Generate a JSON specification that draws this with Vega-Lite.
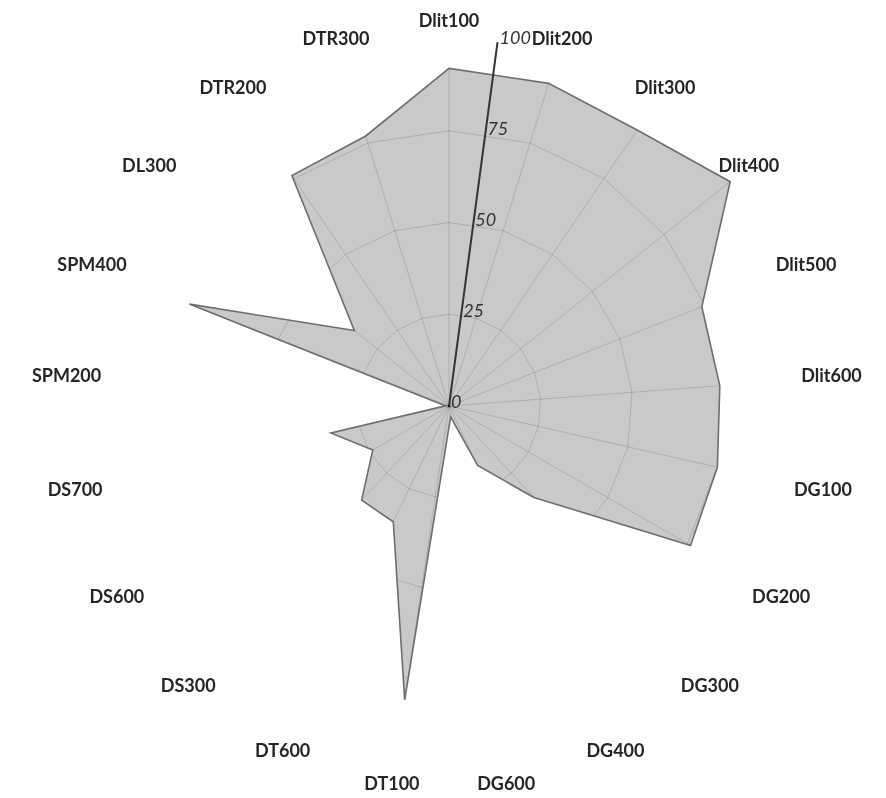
{
  "$schema": "https://vega.github.io/schema/vega-lite/v6.json",
  "width": 886,
  "height": 798,
  "autosize": {"type": "none"},
  "padding": 0,
  "background": "white",
  "view": {"stroke": null},
  "datasets": {
    "scores": [
      {"category": "Dlit100", "order": 0, "value": 92},
      {"category": "Dlit200", "order": 1, "value": 92},
      {"category": "Dlit300", "order": 2, "value": 91},
      {"category": "Dlit400", "order": 3, "value": 98},
      {"category": "Dlit500", "order": 4, "value": 74},
      {"category": "Dlit600", "order": 5, "value": 74},
      {"category": "DG100", "order": 6, "value": 75},
      {"category": "DG200", "order": 7, "value": 76},
      {"category": "DG300", "order": 8, "value": 34},
      {"category": "DG400", "order": 9, "value": 18},
      {"category": "DG600", "order": 10, "value": 3},
      {"category": "DT100", "order": 11, "value": 81},
      {"category": "DT600", "order": 12, "value": 35},
      {"category": "DS300", "order": 13, "value": 35},
      {"category": "DS600", "order": 14, "value": 24},
      {"category": "DS700", "order": 15, "value": 33},
      {"category": "SPM200", "order": 16, "value": 1},
      {"category": "SPM400", "order": 17, "value": 76},
      {"category": "DL300", "order": 18, "value": 33},
      {"category": "DTR200", "order": 19, "value": 76},
      {"category": "DTR300", "order": 20, "value": 77}
    ],
    "ticks": [
      {"tick": 0}, {"tick": 25}, {"tick": 50}, {"tick": 75}, {"tick": 100}
    ]
  },
  "layer": [
    {
      "data": {"name": "scores"},
      "transform": [
        {"calculate": "datum.order * 2 * PI / 21", "as": "theta"},
        {"calculate": "datum.value * sin(datum.theta)", "as": "px"},
        {"calculate": "datum.value * cos(datum.theta)", "as": "py"}
      ],
      "mark": {"type": "line", "interpolate": "linear-closed", "fill": "#c9c9c9", "strokeWidth": 0},
      "encoding": {
        "x": {"field": "px", "type": "quantitative", "axis": null, "scale": {"domain": [-122.34, 119.07], "nice": false, "zero": false}},
        "y": {"field": "py", "type": "quantitative", "axis": null, "scale": {"domain": [-106.81, 110.63], "nice": false, "zero": false}},
        "order": {"field": "order", "type": "quantitative"}
      }
    },
    {
      "data": {"name": "scores"},
      "transform": [
        {"calculate": "datum.order * 2 * PI / 21", "as": "theta"},
        {"calculate": "100 * sin(datum.theta)", "as": "gx"},
        {"calculate": "100 * cos(datum.theta)", "as": "gy"},
        {"calculate": "0", "as": "z"}
      ],
      "mark": {"type": "rule", "stroke": "#ababab", "strokeWidth": 1, "blend": "color-burn"},
      "encoding": {
        "x": {"field": "z", "type": "quantitative", "axis": null, "scale": {"domain": [-122.34, 119.07], "nice": false, "zero": false}},
        "y": {"field": "z", "type": "quantitative", "axis": null, "scale": {"domain": [-106.81, 110.63], "nice": false, "zero": false}},
        "x2": {"field": "gx"},
        "y2": {"field": "gy"}
      }
    },
    {
      "data": {"name": "scores"},
      "transform": [
        {"calculate": "datum.order * 2 * PI / 21", "as": "theta"},
        {"calculate": "25", "as": "r25"},
        {"calculate": "50", "as": "r50"},
        {"calculate": "75", "as": "r75"},
        {"calculate": "100", "as": "r100"},
        {"fold": ["r25", "r50", "r75", "r100"], "as": ["ring", "rv"]},
        {"calculate": "datum.rv * sin(datum.theta)", "as": "gx"},
        {"calculate": "datum.rv * cos(datum.theta)", "as": "gy"}
      ],
      "mark": {"type": "line", "interpolate": "linear-closed", "stroke": "#ababab", "strokeWidth": 1, "blend": "color-burn"},
      "encoding": {
        "x": {"field": "gx", "type": "quantitative", "axis": null, "scale": {"domain": [-122.34, 119.07], "nice": false, "zero": false}},
        "y": {"field": "gy", "type": "quantitative", "axis": null, "scale": {"domain": [-106.81, 110.63], "nice": false, "zero": false}},
        "detail": {"field": "ring", "type": "nominal"},
        "order": {"field": "order", "type": "quantitative"}
      }
    },
    {
      "data": {"name": "scores"},
      "transform": [
        {"calculate": "datum.order * 2 * PI / 21", "as": "theta"},
        {"calculate": "datum.value * sin(datum.theta)", "as": "px"},
        {"calculate": "datum.value * cos(datum.theta)", "as": "py"}
      ],
      "mark": {"type": "line", "interpolate": "linear-closed", "stroke": "#6e6e6e", "strokeWidth": 1.6},
      "encoding": {
        "x": {"field": "px", "type": "quantitative", "axis": null, "scale": {"domain": [-122.34, 119.07], "nice": false, "zero": false}},
        "y": {"field": "py", "type": "quantitative", "axis": null, "scale": {"domain": [-106.81, 110.63], "nice": false, "zero": false}},
        "order": {"field": "order", "type": "quantitative"}
      }
    },
    {
      "data": {"name": "ticks"},
      "transform": [
        {"calculate": "datum.tick * sin(7.6 * PI / 180)", "as": "ax"},
        {"calculate": "datum.tick * cos(7.6 * PI / 180)", "as": "ay"}
      ],
      "mark": {"type": "line", "stroke": "#333333", "strokeWidth": 2},
      "encoding": {
        "x": {"field": "ax", "type": "quantitative", "axis": null, "scale": {"domain": [-122.34, 119.07], "nice": false, "zero": false}},
        "y": {"field": "ay", "type": "quantitative", "axis": null, "scale": {"domain": [-106.81, 110.63], "nice": false, "zero": false}},
        "order": {"field": "tick", "type": "quantitative"}
      }
    },
    {
      "data": {"name": "ticks"},
      "transform": [
        {"calculate": "datum.tick * sin(7.6 * PI / 180)", "as": "ax"},
        {"calculate": "datum.tick * cos(7.6 * PI / 180)", "as": "ay"}
      ],
      "mark": {"type": "text", "align": "left", "baseline": "middle", "dx": 2, "dy": -3, "font": "Lato", "fontSize": 18, "fontStyle": "italic", "fill": "#333333"},
      "encoding": {
        "x": {"field": "ax", "type": "quantitative", "axis": null, "scale": {"domain": [-122.34, 119.07], "nice": false, "zero": false}},
        "y": {"field": "ay", "type": "quantitative", "axis": null, "scale": {"domain": [-106.81, 110.63], "nice": false, "zero": false}},
        "text": {"field": "tick", "type": "quantitative"}
      }
    },
    {
      "data": {"name": "scores"},
      "transform": [
        {"calculate": "datum.order * 2 * PI / 21", "as": "theta"},
        {"calculate": "104.5 * sin(datum.theta)", "as": "lx"},
        {"calculate": "104.5 * cos(datum.theta)", "as": "ly"}
      ],
      "mark": {"type": "text", "align": "center", "baseline": "middle", "font": "Lato", "fontSize": 18, "fontWeight": "bold", "fill": "#262626"},
      "encoding": {
        "x": {"field": "lx", "type": "quantitative", "axis": null, "scale": {"domain": [-122.34, 119.07], "nice": false, "zero": false}},
        "y": {"field": "ly", "type": "quantitative", "axis": null, "scale": {"domain": [-106.81, 110.63], "nice": false, "zero": false}},
        "text": {"field": "category", "type": "nominal"}
      }
    }
  ]
}
